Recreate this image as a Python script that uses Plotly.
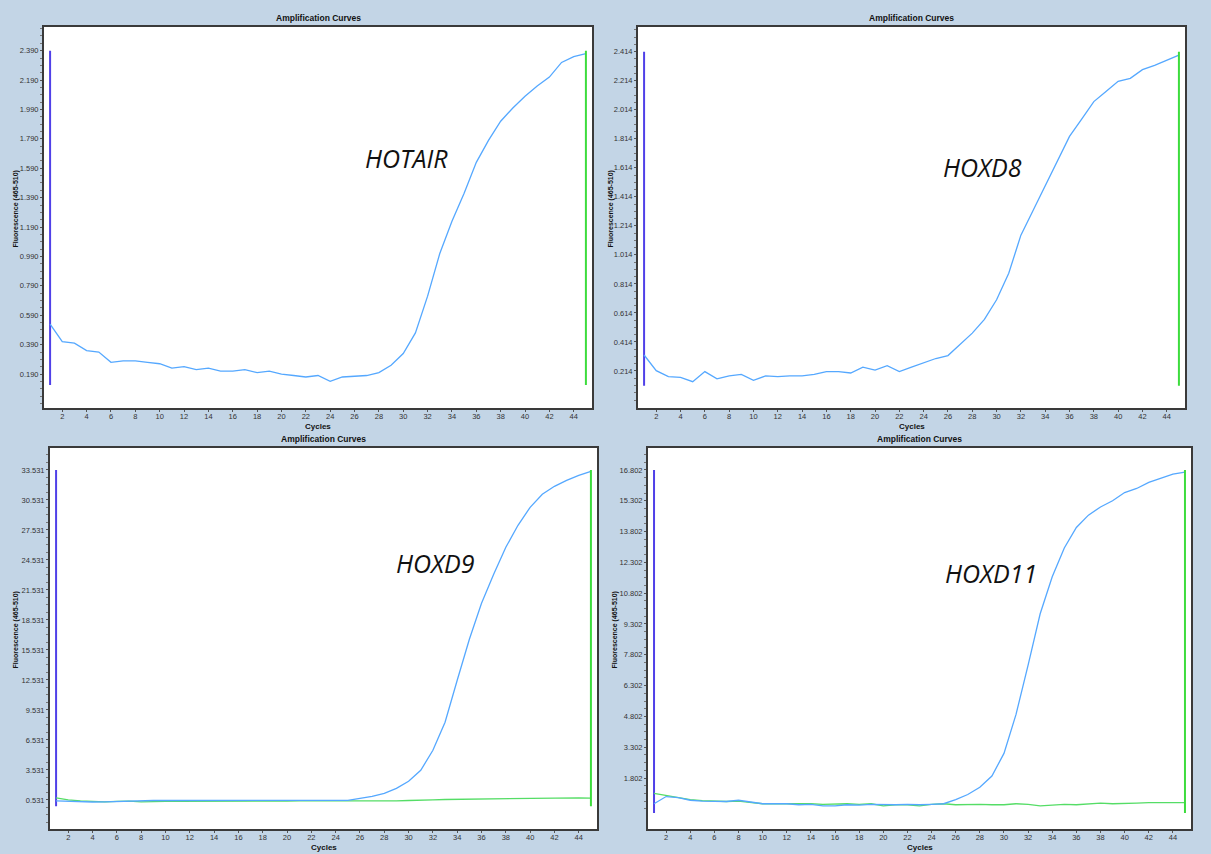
import plotly.graph_objects as go

W, H = 1211, 854

cycles = list(range(1, 46))

hotair = [0.53, 0.41, 0.40, 0.35, 0.34, 0.27, 0.28, 0.28, 0.27, 0.26, 0.23, 0.24, 0.22, 0.23, 0.21,
          0.21, 0.22, 0.20, 0.21, 0.19, 0.18, 0.17, 0.18, 0.14, 0.17, 0.175, 0.18, 0.20, 0.25, 0.33,
          0.47, 0.72, 1.01, 1.23, 1.42, 1.63, 1.78, 1.91, 2.00, 2.08, 2.15, 2.21, 2.31, 2.35, 2.37]

hoxd8 = [0.324, 0.216, 0.175, 0.17, 0.14, 0.21, 0.16, 0.18, 0.19, 0.15, 0.18, 0.175, 0.18, 0.18, 0.19,
         0.21, 0.21, 0.20, 0.24, 0.22, 0.25, 0.21, 0.24, 0.27, 0.30, 0.32, 0.40, 0.475, 0.57, 0.705,
         0.887, 1.15, 1.32, 1.49, 1.66, 1.83, 1.95, 2.07, 2.14, 2.21, 2.23, 2.29, 2.32, 2.355, 2.39]

hoxd9 = [0.45, 0.40, 0.35, 0.33, 0.35, 0.40, 0.45, 0.48, 0.48, 0.48, 0.48, 0.48, 0.48, 0.48, 0.48,
         0.47, 0.46, 0.48, 0.48, 0.48, 0.48, 0.48, 0.48, 0.48, 0.50, 0.70, 0.90, 1.20, 1.70, 2.40,
         3.50, 5.50, 8.30, 12.5, 16.6, 20.2, 23.1, 25.8, 28.0, 29.8, 31.1, 31.9, 32.5, 33.0, 33.4]

hoxd9_ctrl = [0.75, 0.55, 0.45, 0.42, 0.35, 0.40, 0.42, 0.35, 0.40, 0.40, 0.40, 0.40, 0.38, 0.35, 0.38,
              0.40, 0.42, 0.40, 0.42, 0.42, 0.45, 0.45, 0.45, 0.45, 0.38, 0.45, 0.45, 0.45, 0.45, 0.48,
              0.55, 0.55, 0.58, 0.60, 0.58, 0.62, 0.62, 0.65, 0.70, 0.66, 0.70, 0.70, 0.72, 0.75, 0.72]

hoxd11 = [0.55, 0.90, 0.85, 0.72, 0.68, 0.66, 0.66, 0.72, 0.62, 0.55, 0.55, 0.55, 0.50, 0.52, 0.45,
          0.45, 0.50, 0.48, 0.52, 0.50, 0.50, 0.52, 0.50, 0.52, 0.55, 0.75, 1.00, 1.35, 1.90, 3.00,
          4.90, 7.30, 9.80, 11.6, 13.0, 14.0, 14.6, 15.0, 15.3, 15.7, 15.9, 16.2, 16.4, 16.6, 16.7]

hoxd11_ctrl = [1.05, 0.95, 0.85, 0.75, 0.70, 0.68, 0.66, 0.68, 0.60, 0.55, 0.55, 0.55, 0.58, 0.55, 0.52,
               0.55, 0.55, 0.52, 0.55, 0.45, 0.50, 0.50, 0.45, 0.52, 0.55, 0.50, 0.52, 0.52, 0.50, 0.50,
               0.55, 0.52, 0.45, 0.50, 0.52, 0.50, 0.55, 0.58, 0.55, 0.55, 0.58, 0.60, 0.60, 0.62, 0.60]

gene_names = ["HOTAIR", "HOXD8", "HOXD9", "HOXD11"]

x_tickvals = list(range(2, 45, 2))
y_ticks = [
    [0.190, 0.390, 0.590, 0.790, 0.990, 1.190, 1.390, 1.590, 1.790, 1.990, 2.190, 2.390],
    [0.214, 0.414, 0.614, 0.814, 1.014, 1.214, 1.414, 1.614, 1.814, 2.014, 2.214, 2.414],
    [0.531, 3.531, 6.531, 9.531, 12.531, 15.531, 18.531, 21.531, 24.531, 27.531, 30.531, 33.531],
    [1.802, 3.302, 4.802, 6.302, 7.802, 9.302, 10.802, 12.302, 13.802, 15.302, 16.802],
]
y_ranges = [[-0.041, 2.551], [-0.041, 2.584], [-2.37, 35.73], [-0.68, 17.87]]
x_range = [0.5, 45.5]
# start / end cycle marker extents
marker_cycles = [1, 45]
marker_y = [[0.115, 2.390], [0.113, 2.414], [-0.1, 33.531], [0.1, 16.802]]

# plot-area boxes in pixels: (left, right, top, bottom)
boxes = [(44, 592, 27, 408), (638, 1185, 27, 408), (50, 597, 448, 829), (648, 1191, 448, 829)]
ylabel_x = [15, 610, 15, 614]
label_pos = [(406, 158), (982, 167), (435, 563), (991, 573)]

BLUE = "#55a8ff"
GREEN = "#3ddc3d"
PURPLE = "#5040e8"
BG = "#c3d5e6"
FONT = "Liberation Sans"

fig = go.Figure()
series_blue = [hotair, hoxd8, hoxd9, hoxd11]
series_green = [None, None, hoxd9_ctrl, hoxd11_ctrl]

annotations = []
for i in range(4):
    xa = "x" if i == 0 else f"x{i+1}"
    ya = "y" if i == 0 else f"y{i+1}"
    fig.add_trace(go.Scatter(x=[marker_cycles[0]] * 2, y=marker_y[i], mode="lines",
                             line=dict(color=PURPLE, width=2), xaxis=xa, yaxis=ya,
                             showlegend=False, hoverinfo="skip"))
    if series_green[i] is not None:
        fig.add_trace(go.Scatter(x=cycles, y=series_green[i], mode="lines",
                                 line=dict(color="#55dd66", width=1.3), xaxis=xa, yaxis=ya,
                                 showlegend=False))
    fig.add_trace(go.Scatter(x=cycles, y=series_blue[i], mode="lines",
                             line=dict(color=BLUE, width=1.3), xaxis=xa, yaxis=ya,
                             showlegend=False))
    fig.add_trace(go.Scatter(x=[marker_cycles[1]] * 2, y=marker_y[i], mode="lines",
                             line=dict(color=GREEN, width=2), xaxis=xa, yaxis=ya,
                             showlegend=False, hoverinfo="skip"))

    l, r, t, b = boxes[i]
    xdom = [l / W, r / W]
    ydom = [1 - b / H, 1 - t / H]
    axis_common = dict(showgrid=False, zeroline=False, showline=True, mirror=True,
                       linecolor="#3a3a3a", linewidth=2, ticks="outside", tickcolor="#555",
                       ticklen=2, tickfont=dict(family=FONT, size=7.5, color="#333"))
    step = y_ticks[i][1] - y_ticks[i][0]
    minor_vals = [y_ticks[i][0] + k * step / 4 for k in range(-4, 4 * len(y_ticks[i]) + 4)]
    minor_vals = [v for v in minor_vals if y_ranges[i][0] < v < y_ranges[i][1]]
    fig.layout[f"xaxis{'' if i == 0 else i+1}"] = dict(
        domain=xdom, range=x_range, anchor=ya, tickvals=x_tickvals,
        ticktext=[str(v) for v in x_tickvals], ticklabelstandoff=-2, **axis_common)
    fig.layout[f"yaxis{'' if i == 0 else i+1}"] = dict(
        domain=ydom, range=y_ranges[i], anchor=xa, tickvals=y_ticks[i],
        ticktext=[f"{v:.3f}" for v in y_ticks[i]],
        minor=dict(ticks="outside", ticklen=2, tickcolor="#777", tickvals=minor_vals),
        **axis_common)

    cx = (l + r) / 2
    common = dict(xref="paper", yref="paper", showarrow=False, xanchor="center", yanchor="middle")
    annotations.append(dict(text="<b>Amplification Curves</b>", x=cx / W, y=1 - (t - 9) / H,
                            font=dict(family=FONT, size=8.5, color="#111"), **common))
    annotations.append(dict(text="<b>Cycles</b>", x=cx / W, y=1 - (b + 18) / H,
                            font=dict(family=FONT, size=8, color="#111"), **common))
    annotations.append(dict(text="<b>Fluorescence (465-510)</b>", x=ylabel_x[i] / W,
                            y=1 - ((t + b) / 2 - 8) / H, textangle=-90,
                            font=dict(family=FONT, size=7, color="#111"), **common))
    lx, ly = label_pos[i]
    annotations.append(dict(text=f"<i>{gene_names[i]}</i>", x=lx / W, y=1 - ly / H,
                            font=dict(family="Open Sans", size=25, color="#111"), **common))

fig.update_layout(width=W, height=H, margin=dict(l=0, r=0, t=0, b=0),
                  paper_bgcolor=BG, plot_bgcolor="white", annotations=annotations,
                  showlegend=False)

fig.write_html("out.html")
